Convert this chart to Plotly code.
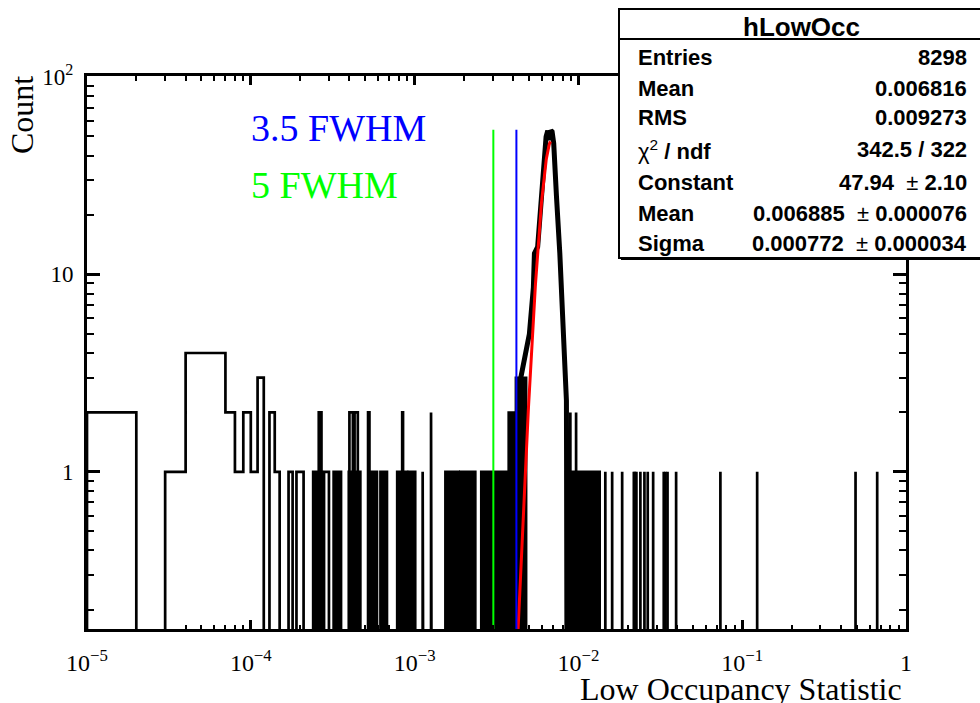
import numpy as np
import plotly.graph_objects as go

# ---------------- data ----------------
BIN_W = 1e-5          # histogram bin width
Y_FLOOR = 0.05        # where empty bins sit on the log axis (below visible range)

# isolated / clearly resolved bins: index k covers [k*BIN_W, (k+1)*BIN_W)
bin_idx = [1, 3, 4, 5, 6, 7, 8, 9, 10, 11, 13, 14, 17, 19, 20,
           26, 28, 29, 40, 41, 43, 44, 52, 84, 112, 126,
           893, 968, 1460, 1607, 1850, 2180, 2210, 2260, 2390, 2530, 2650,
           2860, 3320, 3400, 3500, 3950, 7360, 12340, 49200, 66700]
bin_cnt = [2, 1, 4, 4, 4, 2, 1, 2, 1, 3, 2, 1, 1, 1, 1,
           2, 1, 1, 2, 2, 2, 2, 2, 2, 1, 2,
           2, 2, 1, 1, 1, 1, 1, 1, 1, 1, 1,
           1, 1, 1, 1, 1, 1, 1, 1, 1]

# ranges where bins are too dense to resolve (counts alternate 0..top)
dense_lo = [2.40e-4, 3.20e-4, 3.96e-4, 5.42e-4, 6.18e-4, 7.82e-4, 9.20e-4,
            1.54e-3, 1.90e-3, 2.55e-3, 3.75e-3, 4.15e-3, 8.40e-3]
dense_hi = [2.72e-4, 3.56e-4, 4.67e-4, 5.90e-4, 6.79e-4, 9.00e-4, 1.01e-3,
            1.86e-3, 2.35e-3, 3.75e-3, 4.15e-3, 4.80e-3, 1.35e-2]
dense_top = [1, 1, 1, 1, 1, 1, 1, 1, 1, 1, 2, 3, 1]

# peak envelope (value, count)
peak_x = [4.45e-3, 4.80e-3, 5.02e-3, 5.31e-3, 5.39e-3, 5.64e-3, 5.92e-3, 6.06e-3,
          6.35e-3, 6.50e-3, 6.62e-3, 6.80e-3, 6.91e-3, 7.07e-3, 7.17e-3, 7.35e-3,
          7.70e-3, 8.07e-3, 8.26e-3, 8.45e-3, 8.55e-3]
peak_y = [3.0, 4.0, 5.0, 8.6, 12.8, 13.8, 23.8, 35.0,
          49.8, 53.5, 48.0, 53.5, 52.8, 46.0, 35.0, 24.7,
          12.8, 6.1, 4.0, 2.3, 0.05]

# Gaussian fit parameters (from stats box)
fit_const, fit_mean, fit_sigma = 47.94, 0.006885, 0.000772
fit_lo, fit_hi = 0.00418, 0.00675
line_height = 54.0
cut_35 = fit_mean - 3.5 * fit_sigma
cut_5 = fit_mean - 5.0 * fit_sigma

stats_labels = ["<b>Entries</b>", "<b>Mean</b>", "<b>RMS</b>", "χ<sup>2</sup><b> / ndf</b>",
                "<b>Constant</b>", "<b>Mean</b>", "<b>Sigma</b>"]
stats_values = ["<b>8298</b>", "<b>0.006816</b>", "<b>0.009273</b>", "<b>342.5 / 322</b>",
                "<b>47.94 </b> ± <b>2.10</b>", "<b>0.006885 </b> ± <b>0.000076</b>",
                "<b>0.000772 </b> ± <b>0.000034</b>"]

x_tickvals = [1e-5, 1e-4, 1e-3, 1e-2, 1e-1, 1]
x_ticktext = ["10<sup>−5</sup>", "10<sup>−4</sup>", "10<sup>−3</sup>", "10<sup>−2</sup>",
              "10<sup>−1</sup>", "1"]
y_tickvals = [1, 10, 100]
y_ticktext = ["1", "10", "10<sup>2</sup>"]

# ---------------- build traces ----------------
def outline(idx, cnt):
    xs, ys = [], []
    prev = None
    for k, c in sorted(zip(idx, cnt)):
        lo, hi = k * BIN_W, (k + 1) * BIN_W
        if prev is not None and k == prev + 1:
            xs += [lo, hi]
            ys += [c, c]
        else:
            if prev is not None:
                xs += [(prev + 1) * BIN_W, None]
                ys += [Y_FLOOR, None]
            xs += [lo, lo, hi]
            ys += [Y_FLOOR, c, c]
        prev = k
    xs.append((prev + 1) * BIN_W)
    ys.append(Y_FLOOR)
    return xs, ys

fig = go.Figure()

dx, dy = [], []
for lo, hi, t in zip(dense_lo, dense_hi, dense_top):
    dx += [lo, lo, hi, hi, lo, None]
    dy += [Y_FLOOR, t, t, Y_FLOOR, Y_FLOOR, None]
fig.add_trace(go.Scatter(x=dx, y=dy, mode="lines", fill="toself", fillcolor="black",
                         line=dict(color="black", width=2.5), hoverinfo="skip"))

hx, hy = outline(bin_idx, bin_cnt)
fig.add_trace(go.Scatter(x=hx, y=hy, mode="lines", line=dict(color="black", width=2.7),
                         hoverinfo="skip"))

fig.add_trace(go.Scatter(x=peak_x, y=peak_y, mode="lines", line=dict(color="black", width=5),
                         hoverinfo="skip"))

fx = np.linspace(fit_lo, fit_hi, 200)
fy = fit_const * np.exp(-0.5 * ((fx - fit_mean) / fit_sigma) ** 2)
fig.add_trace(go.Scatter(x=fx, y=fy, mode="lines", line=dict(color="#ff0000", width=3),
                         hoverinfo="skip"))

for xc, col in [(cut_35, "#0000ff"), (cut_5, "#00ff00")]:
    fig.add_trace(go.Scatter(x=[xc, xc], y=[Y_FLOOR, line_height], mode="lines",
                             line=dict(color=col, width=2), hoverinfo="skip"))

# ---------------- layout ----------------
L, R, T, B = 87, 906, 76, 629
W, H = 980, 703

def px(x):
    return (x - L) / (R - L)

def py(y):
    return (B - y) / (B - T)

x_minor = [m * 10.0 ** e for e in range(-5, 0) for m in range(2, 10)]
y_minor = [v for v in [m * 10.0 ** e for e in range(-1, 2) for m in range(2, 10)] if v >= 0.16]

serif = "Liberation Serif, Times New Roman, serif"
sans = "Liberation Sans, Arial, sans-serif"

fig.update_layout(
    width=W, height=H, showlegend=False,
    margin=dict(l=L, r=W - R, t=T, b=H - B),
    paper_bgcolor="white", plot_bgcolor="white",
    xaxis=dict(type="log", range=[-5, 0], showgrid=False, zeroline=False,
               showline=True, linecolor="black", linewidth=3, mirror="allticks",
               ticks="inside", ticklen=9, tickwidth=2.5, tickcolor="black",
               tickmode="array", tickvals=x_tickvals, ticktext=x_ticktext,
               tickfont=dict(family=serif, size=24, color="black"),
               ticklabelstandoff=10,
               minor=dict(tickmode="array", tickvals=x_minor, ticks="inside",
                          ticklen=4.5, tickwidth=2, tickcolor="black", showgrid=False)),
    yaxis=dict(type="log", range=[np.log10(0.16), 2.005], showgrid=False, zeroline=False,
               showline=True, linecolor="black", linewidth=3, mirror="allticks",
               ticks="inside", ticklen=13, tickwidth=2.5, tickcolor="black",
               tickmode="array", tickvals=y_tickvals, ticktext=y_ticktext,
               tickfont=dict(family=serif, size=23, color="black"),
               ticklabelstandoff=6,
               minor=dict(tickmode="array", tickvals=y_minor, ticks="inside",
                          ticklen=7, tickwidth=2, tickcolor="black", showgrid=False)),
)

ann = []
# axis titles
ann.append(dict(text="Low Occupancy Statistic", xref="paper", yref="paper",
                x=px(904), y=py(689), xanchor="right", yanchor="middle", showarrow=False,
                font=dict(family=serif, size=32, color="black")))
ann.append(dict(text="Count", xref="paper", yref="paper", textangle=-90,
                x=px(22), y=py(74), xanchor="center", yanchor="top", showarrow=False,
                font=dict(family=serif, size=32, color="black")))
# FWHM labels
ann.append(dict(text="3.5 FWHM", xref="paper", yref="paper", x=px(249), y=py(128),
                xanchor="left", yanchor="middle", showarrow=False,
                font=dict(family=serif, size=38, color="#0000ff")))
ann.append(dict(text="5 FWHM", xref="paper", yref="paper", x=px(249), y=py(185),
                xanchor="left", yanchor="middle", showarrow=False,
                font=dict(family=serif, size=38, color="#00ff00")))

# stats box
box_l, box_t, box_b, box_r = 619, 9, 258, 1000
shapes = [
    dict(type="rect", xref="paper", yref="paper", x0=px(box_l + 2), x1=px(box_r + 2),
         y0=py(box_b + 2), y1=py(box_t + 2), fillcolor="black", line=dict(width=0), layer="above"),
    dict(type="rect", xref="paper", yref="paper", x0=px(box_l), x1=px(box_r),
         y0=py(box_b), y1=py(box_t), fillcolor="white",
         line=dict(color="black", width=2), layer="above"),
    dict(type="line", xref="paper", yref="paper", x0=px(box_l), x1=px(box_r),
         y0=py(39), y1=py(39), line=dict(color="black", width=2), layer="above"),
]
ann.append(dict(text="<b>hLowOcc</b>", xref="paper", yref="paper", x=px(801), y=py(27),
                xanchor="center", yanchor="middle", showarrow=False,
                font=dict(family=sans, size=26, color="black")))
row_y = [57, 88, 118, 150, 182, 213, 243]
for lab, val, yy in zip(stats_labels, stats_values, row_y):
    ann.append(dict(text=lab, xref="paper", yref="paper", x=px(636), y=py(yy),
                    xanchor="left", yanchor="middle", showarrow=False,
                    font=dict(family=sans, size=22, color="black")))
    ann.append(dict(text=val, xref="paper", yref="paper", x=px(969), y=py(yy),
                    xanchor="right", yanchor="middle", showarrow=False,
                    font=dict(family=sans, size=22, color="black")))

fig.update_layout(annotations=ann, shapes=shapes)
fig.write_html("out.html")
